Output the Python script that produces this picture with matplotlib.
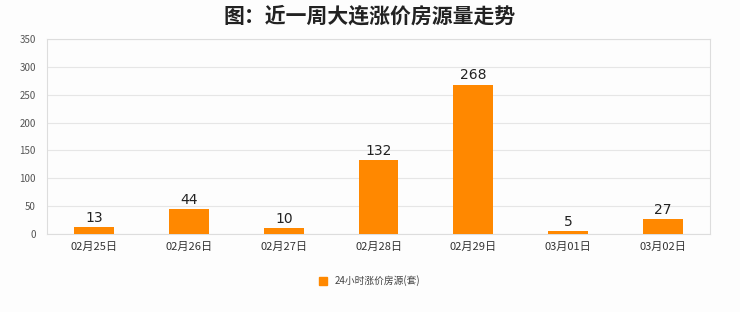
import matplotlib
matplotlib.use('Agg')
import matplotlib.pyplot as plt
from matplotlib.patches import Patch

plt.rcParams['font.family'] = ['Noto Sans CJK SC', 'DejaVu Sans']

dates = ['02月25日', '02月26日', '02月27日', '02月28日', '02月29日', '03月01日', '03月02日']
counts = [13, 44, 10, 132, 268, 5, 27]
series_name = '24小时涨价房源(套)'
bar_color = '#ff8800'

fig = plt.figure(figsize=(7.4, 3.12), dpi=100, facecolor='#fdfdfd')
ax = fig.add_axes([47 / 740, 1 - 234 / 312, 663 / 740, 195 / 312])
ax.set_facecolor('#fdfdfd')

x = range(len(dates))
bars = ax.bar(x, counts, width=0.42, color=bar_color, zorder=3)
for xi, v in zip(x, counts):
    ax.text(xi, v + 4, str(v), ha='center', va='bottom', fontsize=10, color='#222222',
            family='DejaVu Sans')

ax.set_xlim(-0.5, len(dates) - 0.5)
ax.set_ylim(0, 350)
ax.set_yticks(range(0, 351, 50))
ax.set_xticks(list(x))
ax.set_xticklabels(dates, fontsize=8, color='#333333')
ax.tick_params(axis='y', labelsize=7, colors='#555555', length=0, pad=8)
ax.tick_params(axis='x', length=0, pad=6)
ax.grid(axis='y', color='#e6e6e6', linewidth=0.8, zorder=0)
for side in ['left', 'right', 'top', 'bottom']:
    ax.spines[side].set_color('#dddddd')
    ax.spines[side].set_linewidth(0.8)

fig.text(0.5, 1 - 16 / 312, '图：近一周大连涨价房源量走势', ha='center', va='center',
         fontsize=15, fontweight='bold', color='#222222')

fig.legend(handles=[Patch(color=bar_color)], labels=[series_name], loc='center',
           bbox_to_anchor=(0.5, 1 - 281 / 312), frameon=False, fontsize=7,
           handlelength=0.8, handleheight=0.8, labelcolor='#444444')

fig.savefig('out.png', dpi=100, facecolor=fig.get_facecolor())
